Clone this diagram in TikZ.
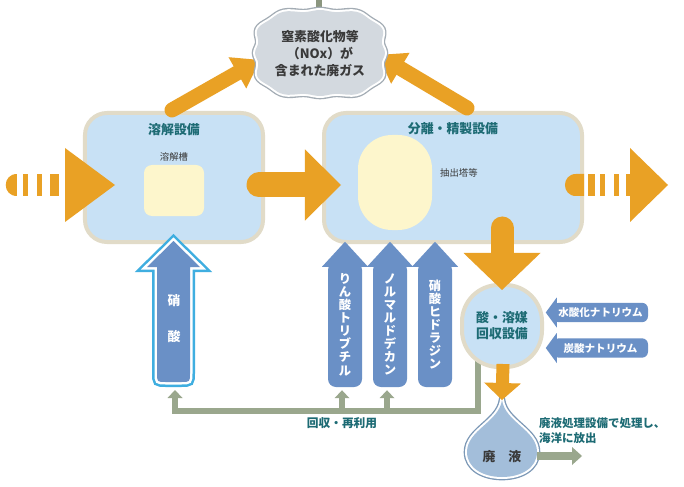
\documentclass[tikz,border=0pt]{standalone}
\usepackage{fontspec}
\setmainfont{Noto Sans CJK JP}
\usepackage{tikz}
\usetikzlibrary{arrows.meta,positioning,calc}

\definecolor{orangeflow}{HTML}{E9A125}
\definecolor{boxfill}{HTML}{C8E1F5}
\definecolor{boxedge}{HTML}{E1DBC8}
\definecolor{tankfill}{HTML}{FDF6CC}
\definecolor{titleteal}{HTML}{1D6B74}
\definecolor{arrowblue}{HTML}{6A90C6}
\definecolor{nitricedge}{HTML}{3FAEE0}
\definecolor{recyclegreen}{HTML}{9AA78D}
\definecolor{cloudfill}{HTML}{D3D9DF}
\definecolor{cloudedge}{HTML}{A3ACB4}
\definecolor{dropfill}{HTML}{A3BEDA}
\definecolor{dropedge}{HTML}{7C98B6}
\definecolor{labelgray}{HTML}{3A3A3A}

\tikzset{
  facility/.style={draw=boxedge,line width=0.12cm,fill=boxfill,rounded corners=0.66cm},
  tank/.style={fill=tankfill,rounded corners=0.24cm},
  title/.style={text=titleteal,font=\bfseries\fontsize{11}{13.5}\selectfont,align=center},
  tag/.style={text=labelgray,font=\fontsize{8}{9}\selectfont},
  flow/.style={draw=orangeflow,line cap=round},
  reagent/.style={fill=arrowblue,rounded corners=0.24cm,text=white,inner sep=0pt,align=center,
    font=\bfseries\fontsize{10.5}{11.2}\selectfont,minimum width=1.02cm,minimum height=3.75cm},
  alkali/.style={fill=arrowblue,rounded corners=0.18cm,text=white,inner sep=0pt,
    font=\bfseries\fontsize{9}{10}\selectfont,minimum width=2.85cm,minimum height=0.58cm},
  recycle/.style={draw=recyclegreen,line width=0.18cm},
}

\begin{document}
\begin{tikzpicture}[x=0.03cm,y=-0.03cm]
\fill[white] (0,0) rectangle (684,487);
\useasboundingbox (0,0) rectangle (684,487);

% plant blocks
\node[facility,minimum width=5.34cm,minimum height=3.87cm] (dissolver) at (174,177.5) {};
\node[facility,minimum width=7.74cm,minimum height=3.87cm] (separator) at (453,177.5) {};
\node[title] (distitle) at (174,130) {溶解設備};
\node[title] (septitle) at (453,129) {分離・精製設備};
\node[tank,minimum width=1.8cm,minimum height=1.53cm] (tank) at (174,190.5) {};
\node[tag] (tanklabel) at (174,157) {溶解槽};
\node[tank,rounded corners=1.02cm,minimum width=2.22cm,minimum height=2.85cm] (column) at (395,182.5) {};
\node[tag,anchor=west] (columnlabel) at (436,173) {抽出塔等};

% feed and product streams
\fill[orangeflow] (17,174) .. controls (2.3,174) and (2.3,196) .. (17,196) -- cycle;
\foreach \a/\b in {23/28,37/42,50/59}
  \fill[orangeflow] (\a,174) rectangle (\b,196);
\fill[orangeflow] (65,148) -- (115,185) -- (65,222) -- cycle;
\fill[orangeflow] (576,174) .. controls (561.3,174) and (561.3,196) .. (576,196) -- (584,196) -- (584,174) -- cycle;
\foreach \a/\b in {588/595,600/605,614/619,626/631}
  \fill[orangeflow] (\a,174) rectangle (\b,196);
\fill[orangeflow] (630,148) -- (668,185) -- (630,222) -- cycle;

% off-gas
\draw[flow,line width=0.45cm,-{Triangle[length=0.78cm,width=1.08cm,line width=0pt]}]
  ($(dissolver.north)+(-2,-1)$) -- (260,60);
\draw[flow,line width=0.45cm,-{Triangle[length=0.78cm,width=1.08cm,line width=0pt]}]
  ($(separator.north)+(14,-3)$) -- (378,55);
\fill[recyclegreen!90!black] (316,0) rectangle (322,10);
\path[fill=cloudfill,preaction={draw=cloudedge,line width=0.2cm},preaction={draw=white,line width=0.12cm}]
  plot[domain=0:357,samples=120,variable=\t]
  ({320+68*cos(\t)*(1-0.07*cos(4*\t)+0.025*cos(12*\t))},{53+45*sin(\t)*(1-0.07*cos(4*\t)+0.025*cos(12*\t))}) -- cycle;
\node[text=labelgray,font=\bfseries\fontsize{11}{14.5}\selectfont,align=center] (gas) at (320,54)
  {窒素酸化物等\\（NOx）が\\含まれた廃ガス};

% dissolver to separator
\draw[flow,line width=0.75cm,-{Triangle[length=1.08cm,width=2.13cm,line width=0pt]}]
  ($(dissolver.east)+(-6,7.5)$) -- ($(separator.west)+(19,7.5)$);

% reagents
\path[fill=arrowblue,preaction={draw=nitricedge,line width=0.3cm},preaction={draw=white,line width=0.15cm}]
  (157,267) -- (157,373) .. controls (157,382) and (157,382) .. (166,382) -- (181,382)
  .. controls (190,382) and (190,382) .. (190,373) -- (190,267) -- (200,267) -- (173.5,241) -- (147,267) -- cycle;
\node[text=white,font=\bfseries\fontsize{11}{30.7}\selectfont,align=center] (nitric) at (174,319) {硝\\酸};
\node[reagent] (tbp) at (345,324.5) {り\\ん\\酸\\ト\\リ\\ブ\\チ\\ル};
\node[reagent] (ndd) at (390,324.5) {ノ\\ル\\マ\\ル\\ド\\デ\\カ\\ン};
\node[reagent] (hyd) at (435,324.5) {硝\\酸\\ヒ\\ド\\ラ\\ジ\\ン};
\foreach \n in {tbp,ndd,hyd}
  \fill[arrowblue] ([xshift=-0.69cm,yshift=-0.15cm]\n.north) -- ([yshift=0.6cm]\n.north)
    -- ([xshift=0.69cm,yshift=-0.15cm]\n.north) -- cycle;

% recovery loop
\draw[recycle,-{Triangle[length=0.24cm,width=0.45cm,line width=0pt]}] (478,340) |- (175,411) -- (175,390);
\draw[recycle,-{Triangle[length=0.24cm,width=0.45cm,line width=0pt]}] ($(tbp.south)+(-3,24)$) -- ($(tbp.south)+(-3,3)$);
\draw[recycle,-{Triangle[length=0.24cm,width=0.45cm,line width=0pt]}] ($(ndd.south)+(-3,24)$) -- ($(ndd.south)+(-3,3)$);
\node[title,font=\bfseries\fontsize{10}{12}\selectfont] (reuse) at (342,423) {回収・再利用};

\node[facility,rounded corners=1.1cm,minimum width=2.4cm,minimum height=2.46cm,title] (recovery) at (502,326)
  {酸・溶媒\\回収設備};
\draw[flow,line width=0.69cm,-{Triangle[length=1.11cm,width=2.31cm,line width=0pt]}]
  ($(recovery.north)+(0,-55)$) -- ($(recovery.north)+(0,7)$);
\node[alkali] (naoh) at (600.5,312.5) {水酸化ナトリウム};
\node[alkali] (soda) at (600.5,348) {炭酸ナトリウム};
\foreach \n in {naoh,soda}
  \fill[arrowblue] ([xshift=0.12cm,yshift=0.45cm]\n.west) -- ([xshift=-0.21cm]\n.west)
    -- ([xshift=0.12cm,yshift=-0.45cm]\n.west) -- cycle;

% waste
\coordinate (droptop) at (502,400);
\path[fill=dropfill,preaction={draw=dropedge,line width=0.2cm},preaction={draw=white,line width=0.12cm}]
  (droptop) .. controls (505,422) and (537,430) .. (537,452) .. controls (537,468) and (521,477) .. (502,477)
  .. controls (483,477) and (467,468) .. (467,452) .. controls (467,430) and (499,422) .. (droptop) -- cycle;
\node[text=labelgray,font=\bfseries\fontsize{11}{13}\selectfont] (waste) at (502,457) {廃\quad 液};
\draw[flow,line width=0.39cm,line cap=butt,-{Triangle[length=0.51cm,width=1.11cm,line width=0pt]}]
  ($(recovery.south)+(1,-5)$) -- (droptop);
\draw[recycle,line width=0.24cm,-{Triangle[length=0.3cm,width=0.54cm,line width=0pt]}]
  ($(waste.center)+(35,-1)$) -- ($(waste.center)+(80,-1)$);
\node[text=titleteal,font=\bfseries\fontsize{9.8}{12}\selectfont,anchor=north west,align=left] (disposal) at (535,414)
  {廃液処理設備で処理し、\\海洋に放出};
\end{tikzpicture}
\end{document}
